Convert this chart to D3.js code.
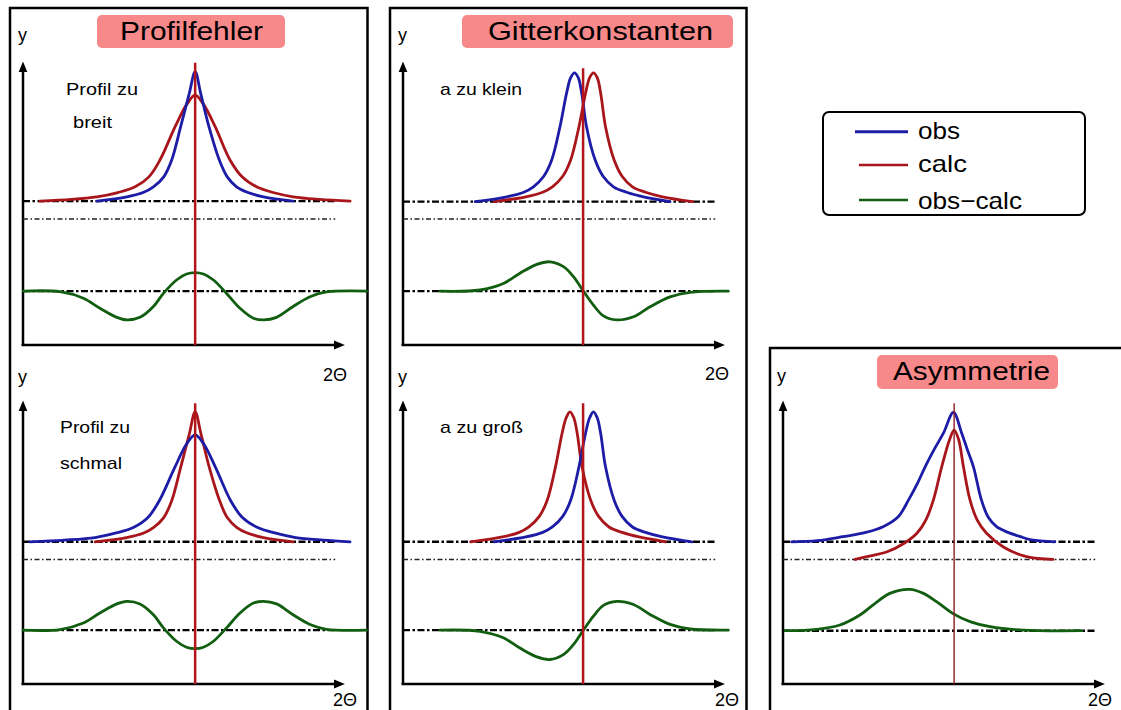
<!DOCTYPE html>
<html lang="de">
<head>
<meta charset="utf-8">
<title>Profilfehler</title>
<script src="https://cdn.jsdelivr.net/npm/d3@7"></script>
<style>
  body { margin: 0; background: #fff; }
  svg text { font-family: "Liberation Sans", Arial, Helvetica, sans-serif; fill: #000; }
</style>
</head>
<body>
<script>
// x = 2Theta (0..100), y = intensity (0..100)
const breitObs = [[21.4,50.5],[30.1,52.0],[35,53.6],[37.8,55.5],[40.8,59.0],[43.1,64.9],[45.7,76.6],[48.2,88.3],[49.9,95.9],[51.5,88.3],[53.9,76.6],[56.9,64.9],[59.2,59.0],[61.9,55.5],[65,53.6],[69.7,52.0],[78.3,50.5]];
const breitCalc = [[4.9,50.5],[14,51.1],[21.4,52.0],[27.5,53.5],[32.5,55.5],[36.5,59.0],[39.7,64.9],[44.1,76.6],[47.5,84.5],[49.9,87.7],[52.3,84.5],[55.7,76.6],[60.0,64.9],[63.5,59.0],[67.7,55.5],[72.5,53.5],[78.3,52.0],[86,51.1],[94.8,50.5]];
const breitDiff = [[0.1,18.9],[10.7,18.7],[17.5,16.4],[22.3,12.9],[27.2,9.7],[30.1,8.8],[33.9,9.7],[37.8,13.5],[40.7,18.1],[44.5,22.8],[47.4,24.9],[49.9,25.4],[52.3,24.9],[55.2,22.8],[59.0,18.1],[62.9,12.9],[66.8,9.4],[69.7,8.8],[73.5,9.7],[78.3,13.5],[83.2,16.9],[88.0,18.6],[99.6,18.9]];

const schmalObs = [[2,49.9],[12,50.5],[20.9,51.4],[27,53.0],[32,54.9],[36.2,58.4],[39.5,64.3],[44,76],[47.4,84.2],[49.9,87.4],[52.4,84.2],[55.8,76],[60.2,64.3],[63.6,58.4],[68,54.9],[73,53.0],[79,51.4],[87,50.5],[94.8,49.9]];
const schmalCalc = [[20.9,49.9],[30,51.4],[35,53.0],[37.8,54.9],[40.8,58.4],[43.1,64.3],[45.7,76],[48.2,87.7],[49.9,95.5],[51.6,87.7],[54,76],[57,64.3],[59.2,58.4],[62,54.9],[65,53.0],[69.7,51.4],[78.3,49.9]];
const schmalDiff = [[0,18.9],[10.7,19.1],[17.5,21.4],[22.3,24.9],[27.2,28.1],[30.1,29.0],[33.9,28.1],[37.8,24.3],[40.7,19.7],[44.5,15.0],[47.4,12.9],[49.9,12.4],[52.3,12.9],[55.2,15.0],[59.0,19.7],[62.9,24.9],[66.8,28.4],[69.7,29.0],[73.5,28.1],[78.3,24.3],[83.2,20.9],[88.0,19.2],[99.6,18.9]];

const kleinObs = [[20.9,50.3],[30.1,52.0],[35,53.6],[37.8,55.5],[40.8,59.2],[43.1,64.9],[45.5,76.6],[47.4,88.3],[48.6,93.8],[49.7,95.5],[50.8,93.8],[51.8,88.3],[53.2,76.6],[55.7,64.9],[58,59.2],[61.0,55.5],[64.8,53.6],[69.7,52.0],[77.4,50.3]];
const kleinCalc = [[26.4,50.3],[35.6,52.0],[40.5,53.6],[43.3,55.5],[46.3,59.2],[48.6,64.9],[51.0,76.6],[52.9,88.3],[54.1,93.8],[55.2,95.5],[56.3,93.8],[57.3,88.3],[58.7,76.6],[61.2,64.9],[63.5,59.2],[66.5,55.5],[70.3,53.6],[75.2,52.0],[84.0,50.3]];
const kleinDiff = [[10.7,18.9],[22.3,19.3],[29.1,21.6],[33.9,25.2],[38.8,28.3],[42.6,29.2],[46.5,27.5],[49.4,24.0],[52.3,18.9],[55.2,14.0],[58.1,10.2],[61.9,8.8],[66.8,9.9],[71.6,13.4],[77.4,16.9],[83.2,18.5],[94.3,18.9]];

const grossObs = [[26.4,49.9],[35.6,51.6],[40.5,53.2],[43.3,55.1],[46.3,58.8],[48.6,64.5],[51.0,76.2],[52.9,87.9],[54.1,93.4],[55.2,95.5],[56.3,93.4],[57.3,87.9],[58.7,76.2],[61.2,64.5],[63.5,58.8],[66.5,55.1],[70.3,53.2],[75.2,51.6],[83.7,49.9]];
const grossCalc = [[19.6,49.9],[28.8,51.6],[33.7,53.2],[36.5,55.1],[39.5,58.8],[41.8,64.5],[44.2,76.2],[46.1,87.9],[47.3,93.4],[48.4,95.5],[49.5,93.4],[50.5,87.9],[51.9,76.2],[54.4,64.5],[56.7,58.8],[59.7,55.1],[63.5,53.2],[68.4,51.6],[76.1,49.9]];
const grossDiff = [[10.7,18.9],[22.3,18.5],[29.1,16.2],[33.9,12.6],[38.8,9.5],[42.6,8.6],[46.5,10.3],[49.4,13.8],[52.3,18.9],[55.2,23.8],[58.1,27.6],[61.9,29.0],[66.8,27.9],[71.6,24.4],[77.4,20.9],[83.2,19.3],[94.3,18.9]];

const asymObs = [[2.5,49.9],[10,50.3],[17.4,51.7],[24,53.2],[29,55.2],[33.4,58.7],[36.4,64.6],[38.9,70.2],[41.2,76.2],[43.9,82.5],[46.5,88.0],[49.4,95.3],[51.8,88.0],[53.5,82.0],[55.2,76.2],[57.5,64.6],[59.5,58.5],[61.9,55.2],[65,53.3],[68.8,51.7],[72,50.6],[78.8,49.9]];
const asymCalc = [[20.9,43.7],[24.3,44.7],[30,46.3],[35,49.3],[38.8,52.9],[41.5,57.8],[43.6,64.6],[46.0,76.2],[48.3,85.8],[49.6,89.1],[50.9,85.8],[52.3,76.2],[54.2,64.6],[56.3,57.5],[59.0,52.9],[64,48.0],[70.6,44.7],[78.3,43.7]];
const asymDiff = [[0.6,18.7],[9.8,19.2],[16.5,20.7],[22.3,24.2],[26.7,28.3],[31,31.8],[36.8,33.2],[40.7,31.8],[44.5,28.9],[49.4,24.6],[54.2,21.9],[60,20.1],[69.7,18.9],[86.6,18.7]];

// baselines: [obs background, calc background, difference zero]
const breitLevels = [50.5, 44.2, 18.9];
const schmalLevels = [49.9, 43.7, 18.9];
const kleinLevels = [50.3, 44.2, 18.9];
const grossLevels = [49.9, 43.7, 18.9];
const asymLevels = [49.9, 43.7, 18.7];

const refPos = [49.9, 49.9, 52.2, 52.2, 49.6];   // red reflex marker position
const refTop = [99, 98.5, 97.1, 98.5, 98.5];

const titles = ["Profilfehler", "Gitterkonstanten", "Asymmetrie"];
const breitNote = ["Profil zu", "breit"];
const schmalNote = ["Profil zu", "schmal"];
const kleinNote = ["a zu klein"];
const grossNote = ["a zu groß"];
const legendLabels = ["obs", "calc", "obs\u2212calc"];

const colObs = "#1c1ca6", colCalc = "#a8161b", colDiff = "#115e10";

const W = 1121, H = 710;
const svg = d3.select("body").append("svg").attr("width", W).attr("height", H);

svg.append("defs").append("marker")
  .attr("id", "arrow")
  .attr("markerUnits", "userSpaceOnUse")
  .attr("markerWidth", 14).attr("markerHeight", 12)
  .attr("viewBox", "0 -6 14 12")
  .attr("refX", 3).attr("refY", 0)
  .attr("orient", "auto")
  .append("path").attr("d", "M0,-4.5L11,0L0,4.5Z").attr("fill", "#000");

// frames
const frames = [[10, 8, 357.5, 720], [390, 8, 356.5, 720], [770, 348, 400, 400]];
svg.selectAll("rect.frame").data(frames).enter().append("rect")
  .attr("class", "frame")
  .attr("x", d => d[0]).attr("y", d => d[1])
  .attr("width", d => d[2]).attr("height", d => d[3])
  .attr("fill", "none").attr("stroke", "#000").attr("stroke-width", 2.5);

// title pills
const pills = [
  { x: 97, y: 15, w: 188, h: 33, tx: 120, ty: 39.5, len: 143 },
  { x: 462, y: 15, w: 271, h: 33, tx: 488, ty: 39.5, len: 225 },
  { x: 877, y: 355, w: 181, h: 34, tx: 893, ty: 379.5, len: 157 }
];
pills.forEach((p, i) => {
  svg.append("rect").attr("x", p.x).attr("y", p.y).attr("width", p.w).attr("height", p.h)
    .attr("rx", 5).attr("fill", "#f8898a");
  svg.append("text").attr("x", p.tx).attr("y", p.ty)
    .attr("font-size", 26).attr("textLength", p.len).attr("lengthAdjust", "spacingAndGlyphs")
    .text(titles[i]);
});

const panels = [
  { ox: 23, oy: 345, obs: breitObs, calc: breitCalc, diff: breitDiff, lv: breitLevels,
    note: breitNote, notePos: [[66, 95, 72], [73, 128, 39]], lab: [323, 381], ylab: [18, 41], mw: 2.5 },
  { ox: 23, oy: 684, obs: schmalObs, calc: schmalCalc, diff: schmalDiff, lv: schmalLevels,
    note: schmalNote, notePos: [[60, 433, 70], [60, 469, 62]], lab: [333, 706], ylab: [18, 383], mw: 2.5 },
  { ox: 403, oy: 345, obs: kleinObs, calc: kleinCalc, diff: kleinDiff, lv: kleinLevels,
    note: kleinNote, notePos: [[440, 95, 82]], lab: [705, 380], ylab: [398, 41], mw: 2.5 },
  { ox: 403, oy: 684, obs: grossObs, calc: grossCalc, diff: grossDiff, lv: grossLevels,
    note: grossNote, notePos: [[440, 433, 83]], lab: [715, 706], ylab: [398, 383], mw: 2.5 },
  { ox: 783, oy: 684, obs: asymObs, calc: asymCalc, diff: asymDiff, lv: asymLevels,
    note: [], notePos: [], lab: [1088, 706], ylab: [777, 382], mw: 1.4 }
];

panels.forEach((p, i) => {
  const x = d3.scaleLinear().domain([0, 100]).range([p.ox, p.ox + 345]);
  const y = d3.scaleLinear().domain([0, 100]).range([p.oy, p.oy - 285]);
  const line = d3.line().x(d => x(d[0])).y(d => y(d[1])).curve(d3.curveCatmullRom.alpha(0.5));
  const g = svg.append("g");

  // axes
  g.append("line")
    .attr("x1", x(0) - 1.5).attr("x2", x(93.3) - 8)
    .attr("y1", y(0)).attr("y2", y(0))
    .attr("stroke", "#000").attr("stroke-width", 2.5).attr("marker-end", "url(#arrow)");
  g.append("line")
    .attr("x1", x(0)).attr("x2", x(0))
    .attr("y1", y(0)).attr("y2", y(99.5) + 8)
    .attr("stroke", "#000").attr("stroke-width", 2.5).attr("marker-end", "url(#arrow)");

  // dash-dot baselines
  const dash = [
    { v: p.lv[0], w: 2.4, da: "7,2.5,2.5,2.5", c: "#000" },
    { v: p.lv[1], w: 1.4, da: "5,2.5,1.5,2.5", c: "#222" },
    { v: p.lv[2], w: 2.4, da: "7,2.5,2.5,2.5", c: "#000" }
  ];
  g.selectAll("line.base").data(dash).enter().append("line")
    .attr("class", "base")
    .attr("x1", x(0)).attr("x2", x(90.5))
    .attr("y1", d => y(d.v)).attr("y2", d => y(d.v))
    .attr("stroke", d => d.c).attr("stroke-width", d => d.w)
    .attr("stroke-dasharray", d => d.da);

  // curves
  [[p.calc, colCalc], [p.obs, colObs], [p.diff, colDiff]].forEach(([data, c]) => {
    g.append("path").datum(data).attr("d", line)
      .attr("fill", "none").attr("stroke", c).attr("stroke-width", 2.8)
      .attr("stroke-linejoin", "round").attr("stroke-linecap", "round");
  });

  // reflex position marker
  g.append("line")
    .attr("x1", x(refPos[i])).attr("x2", x(refPos[i]))
    .attr("y1", y(refTop[i])).attr("y2", y(0))
    .attr("stroke", i === 4 ? "#8e1c1f" : "#b3151b").attr("stroke-width", p.mw);

  // labels
  g.append("text").attr("x", p.ylab[0]).attr("y", p.ylab[1]).attr("font-size", 18).text("y");
  g.append("text").attr("x", p.lab[0]).attr("y", p.lab[1]).attr("font-size", 18).text("2\u0398");
  p.note.forEach((t, k) => {
    const np = p.notePos[k];
    g.append("text").attr("x", np[0]).attr("y", np[1]).attr("font-size", 17)
      .attr("textLength", np[2]).attr("lengthAdjust", "spacingAndGlyphs").text(t);
  });
});

// legend
const lg = svg.append("g");
lg.append("rect").attr("x", 823).attr("y", 112).attr("width", 262).attr("height", 103)
  .attr("rx", 6).attr("fill", "#fff").attr("stroke", "#000").attr("stroke-width", 2);
const legY = [131.7, 165, 200], legTY = [138.5, 171.5, 208.5], legLen = [42, 49, 104];
const legCol = [colObs, colCalc, colDiff], legX0 = [855, 859, 859], legW = [3, 2.5, 2.5];
legendLabels.forEach((t, i) => {
  lg.append("line").attr("x1", legX0[i]).attr("x2", 908).attr("y1", legY[i]).attr("y2", legY[i])
    .attr("stroke", legCol[i]).attr("stroke-width", legW[i]);
  lg.append("text").attr("x", 918).attr("y", legTY[i]).attr("font-size", 24)
    .attr("textLength", legLen[i]).attr("lengthAdjust", "spacingAndGlyphs").text(t);
});
</script>
</body>
</html>
